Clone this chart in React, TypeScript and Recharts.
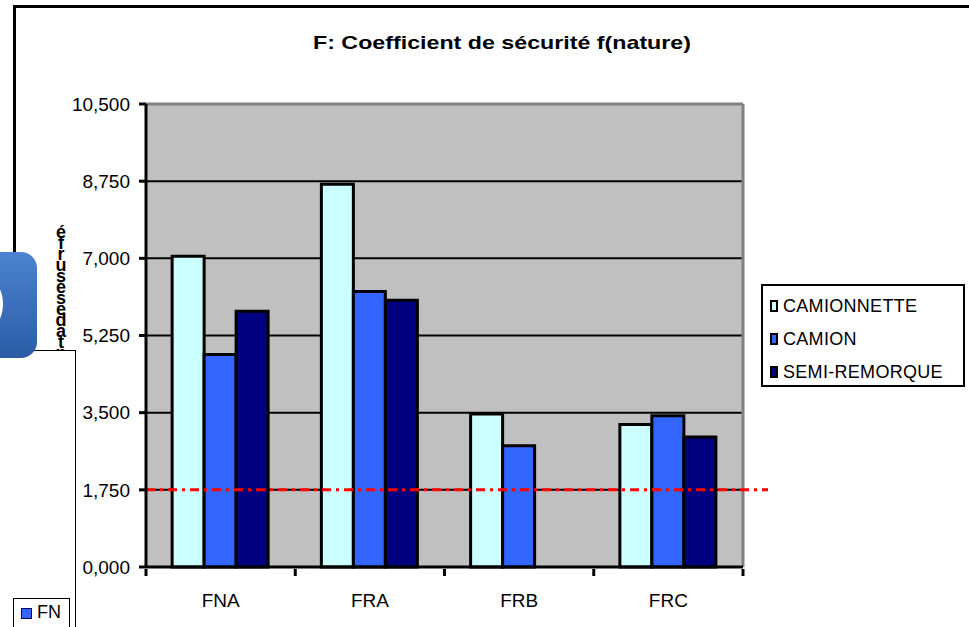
import { ComposedChart, Bar, XAxis, YAxis, CartesianGrid, ReferenceLine } from 'recharts';

const categories = ['FNA', 'FRA', 'FRB', 'FRC'];
const camionnette = [7.05, 8.68, 3.47, 3.23];
const camion = [4.82, 6.25, 2.75, 3.43];
const semiRemorque: (number | null)[] = [5.8, 6.05, null, 2.95];
const yTicks = [0, 1.75, 3.5, 5.25, 7, 8.75, 10.5];
const threshold = 1.75;

const series = [
  { key: 'camionnette', name: 'CAMIONNETTE', color: '#CCFFFF' },
  { key: 'camion', name: 'CAMION', color: '#3366FF' },
  { key: 'semi', name: 'SEMI-REMORQUE', color: '#000080' },
];

const data = categories.map((cat, i) => ({
  cat,
  camionnette: camionnette[i],
  camion: camion[i],
  semi: semiRemorque[i],
}));

const FONT = '"Liberation Sans", Arial, sans-serif';

const fmt = (v: number) => v.toFixed(3).replace('.', ',');

// Excel-style category tick: tick marks on band boundaries, label centred
const CatTick = (props: any) => {
  const { x, y, payload, index, width, visibleTicksCount } = props;
  const half = payload.offset ?? width / visibleTicksCount / 2;
  const left = x - half;
  return (
    <g>
      <line x1={left} y1={y} x2={left} y2={y + 7} stroke="#000" strokeWidth={3} />
      {index === visibleTicksCount - 1 && (
        <line x1={x + half} y1={y} x2={x + half} y2={y + 7} stroke="#000" strokeWidth={3} />
      )}
      <text x={x} y={y + 38} textAnchor="middle" fontSize={19} fontFamily={FONT} fill="#000">
        {payload.value}
      </text>
    </g>
  );
};

const DashDot = (p: any) => (
  <line
    x1={p.x1}
    y1={p.y1}
    x2={p.x2 + 25}
    y2={p.y2}
    stroke="#FF0000"
    strokeWidth={3}
    strokeDasharray="9 5 3 5"
  />
);

export default function App() {
  return (
    <div style={{ position: 'absolute', left: 0, top: 0, width: 969, height: 627, overflow: 'hidden', background: '#fff', fontFamily: FONT }}>
      {/* outer frame */}
      <div style={{ position: 'absolute', left: 13, top: 5, width: 1000, height: 700, border: '3px solid #000', boxSizing: 'border-box' }} />

      <svg width={969} height={70} style={{ position: 'absolute', left: 0, top: 0 }}>
        <text x={313} y={49} fontSize={19} fontWeight="bold" fontFamily={FONT} textLength={378} lengthAdjust="spacingAndGlyphs">
          F: Coefficient de sécurité f(nature)
        </text>
      </svg>

      <div style={{ position: 'absolute', left: 0, top: 0 }}>
        <ComposedChart
          width={969}
          height={627}
          data={data}
          margin={{ top: 104, right: 226, bottom: 30, left: 86 }}
          barCategoryGap="17.5%"
          barGap={0}
        >
          <CartesianGrid vertical={false} fill="#C0C0C0" fillOpacity={1} stroke="#000" strokeWidth={2} />
          <XAxis
            dataKey="cat"
            height={30}
            axisLine={{ stroke: '#000', strokeWidth: 3 }}
            tickLine={false}
            tickSize={0}
            tick={<CatTick />}
            interval={0}
          />
          <YAxis
            width={60}
            domain={[0, 10.5]}
            ticks={yTicks}
            interval={0}
            tickFormatter={fmt}
            axisLine={{ stroke: '#000', strokeWidth: 3 }}
            tickLine={{ stroke: '#000', strokeWidth: 3 }}
            tickSize={7}
            tickMargin={9}
            tick={{ fontSize: 19, fill: '#000', fontFamily: FONT }}
          />
          <ReferenceLine y={10.5} stroke="#808080" strokeWidth={3} />
          <ReferenceLine x="FRC" position="end" stroke="#808080" strokeWidth={3} />
          {series.map((s) => (
            <Bar key={s.key} dataKey={s.key} name={s.name} fill={s.color} stroke="#000" strokeWidth={3} isAnimationActive={false} />
          ))}
          <ReferenceLine y={threshold} shape={DashDot} />
        </ComposedChart>
      </div>

      {/* legend */}
      <div style={{ position: 'absolute', left: 761, top: 284, width: 204, height: 103, border: '2px solid #000', boxSizing: 'border-box', background: '#fff' }}>
        {series.map((s, i) => (
          <div key={s.key} style={{ position: 'absolute', left: 7, top: 9 + i * 33, height: 22, display: 'flex', alignItems: 'center', fontSize: 18, color: '#000', letterSpacing: 0.3 }}>
            <span style={{ width: 4, height: 8, border: '2px solid #000', background: s.color, marginRight: 5, display: 'inline-block' }} />
            {s.name}
          </div>
        ))}
      </div>

      {/* garbled vertical axis title */}
      <div style={{ position: 'absolute', left: 52, top: 222, width: 18, height: 132, writingMode: 'vertical-rl', textOrientation: 'upright', letterSpacing: -9, fontSize: 18, fontWeight: 'bold', lineHeight: '18px', color: '#000', overflow: 'hidden' }}>
        éfrusésedatn
      </div>

      {/* white panel with FN legend */}
      <div style={{ position: 'absolute', left: 0, top: 350, width: 75, height: 300, background: '#fff', borderTop: '1px solid #000', borderRight: '1px solid #000' }} />
      <div style={{ position: 'absolute', left: 13, top: 598, width: 57, height: 40, border: '1px solid #000', background: '#fff', boxSizing: 'border-box' }}>
        <div style={{ position: 'absolute', left: 7, top: 9, width: 11, height: 11, background: '#3366FF', border: '1px solid #000060', boxSizing: 'border-box' }} />
        <div style={{ position: 'absolute', left: 23, top: 3, fontSize: 18, color: '#000' }}>FN</div>
      </div>

      {/* blue rounded icon */}
      <div style={{ position: 'absolute', left: -40, top: 252, width: 77, height: 106, borderRadius: 16, background: 'linear-gradient(#4c82cf, #2c5ca6)', overflow: 'hidden' }}>
        <div style={{ position: 'absolute', left: 12, top: 27, width: 31, height: 50, borderRadius: '50%', background: '#fff' }} />
      </div>
    </div>
  );
}
